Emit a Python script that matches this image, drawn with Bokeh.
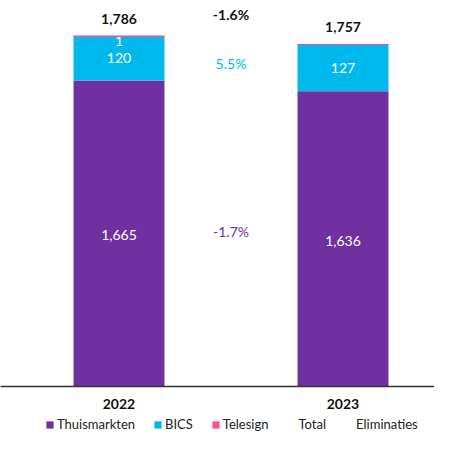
import numpy as np
from bokeh.plotting import figure
from bokeh.layouts import column
from bokeh.models import (ColumnDataSource, Range1d, FixedTicker, Legend, LegendItem)
from bokeh.core.properties import value
from bokeh.embed import file_html
from bokeh.resources import INLINE

# ---- data ----
years = ["2022", "2023"]
thuismarkten = [1665, 1636]
bics = [120, 127]
telesign = [1, 0]
eliminaties = [0, -6]
totals = [1786, 1757]
thuis_labels = ["1,665", "1,636"]
bics_labels = ["120", "127"]
telesign_labels = ["1", ""]
total_labels = ["1,786", "1,757"]
pct_total = "-1.6%"
pct_bics = "5.5%"
pct_thuis = "-1.7%"
series_names = ["Thuismarkten", "BICS", "Telesign", "Total", "Eliminaties"]

# ---- style ----
PURPLE = "#7030A0"
CYAN = "#00B9EC"
PINK = "#FF4F93"
FONT = "Lato"
Y0 = 832.3
PXU = 0.3675
FRAME_H = 386
MAIN_H = 416
W = 0.406

xs = np.arange(len(years))
th = np.array(thuismarkten, dtype=float)
bi = np.array(bics, dtype=float)
te = np.array(telesign, dtype=float)

src = ColumnDataSource(dict(
    x=xs, thuis=th, bics_bottom=th, bics_top=th + bi,
    tel_bottom=th + bi, tel_top=th + bi + te,
    total=np.array(totals, float), elim=np.array(eliminaties, float),
    thuis_mid=(Y0 + th) / 2, bics_mid=th + bi / 2, tel_mid=th + bi + te / 2,
    stack_top=th + bi + te,
    thuis_lab=thuis_labels, bics_lab=bics_labels, tel_lab=telesign_labels,
    total_lab=total_labels,
))

p = figure(width=434, height=MAIN_H, output_backend="svg", toolbar_location=None,
           x_range=Range1d(-0.529, -0.529 + 434 / 224),
           y_range=Range1d(Y0, Y0 + FRAME_H / PXU),
           min_border_left=0, min_border_right=0, min_border_top=0,
           min_border_bottom=MAIN_H - FRAME_H)
p.outline_line_color = None
p.xgrid.visible = False
p.ygrid.visible = False
p.yaxis.visible = False
p.background_fill_color = "white"

p.vbar(x="x", bottom=0, top="thuis", width=W, source=src, fill_color=PURPLE, line_color=None)
p.vbar(x="x", bottom="bics_bottom", top="bics_top", width=W, source=src, fill_color=CYAN, line_color=None)

txt = dict(text_font=value(FONT), text_align="center", text_baseline="middle", source=src)
p.text(x="x", y="thuis_mid", text="thuis_lab", text_color="white", text_font_size="14px", y_offset=2, **txt)
p.text(x="x", y="bics_mid", text="bics_lab", text_color="white", text_font_size="14px", **txt)
p.text(x="x", y="tel_mid", text="tel_lab", text_color="white", text_font_size="14px", y_offset=5, **txt)

p.vbar(x="x", bottom="tel_bottom", top="tel_top", width=W, source=src, fill_color=PINK, line_color=PINK, line_width=1)

p.text(x="x", y="stack_top", text="total_lab", text_color="#111111", text_font_size="14px",
       text_font_style="bold", y_offset=-17, **txt)

# percentage changes between bars
mid_x = float(xs.mean())
top_y = float(np.max(th + bi + te))
bics_y = float(np.mean(th + bi / 2))
thuis_y = float((Y0 + np.mean(th)) / 2)
pct = ColumnDataSource(dict(x=[mid_x, mid_x, mid_x], y=[top_y, bics_y, thuis_y],
                            t=[pct_total, pct_bics, pct_thuis],
                            c=["#111111", CYAN, PURPLE],
                            st=["bold", "normal", "normal"],
                            off=[-22, 0, -5]))
p.text(x="x", y="y", text="t", text_color="c", text_font_style="st", y_offset="off",
       text_font=value(FONT), text_font_size="14px", text_align="center",
       text_baseline="middle", source=pct)

# x axis
p.xaxis.ticker = FixedTicker(ticks=list(xs))
p.xaxis.major_label_overrides = {int(i): y for i, y in zip(xs, years)}
p.xaxis.major_tick_line_color = None
p.xaxis.major_tick_out = 0
p.xaxis.minor_tick_line_color = None
p.xaxis.axis_line_color = "#333333"
p.xaxis.axis_line_width = 1.5
p.xaxis.major_label_standoff = 12
p.xaxis.major_label_text_font = FONT
p.xaxis.major_label_text_font_style = "bold"
p.xaxis.major_label_text_font_size = "14px"
p.xaxis.major_label_text_color = "#111111"

# ---- legend strip ----
lf = figure(width=434, height=434 - MAIN_H, output_backend="svg", toolbar_location=None,
            x_range=Range1d(0, 1), y_range=Range1d(0, 1),
            min_border_left=0, min_border_right=0, min_border_top=0, min_border_bottom=0)
lf.outline_line_color = None
lf.axis.visible = False
lf.grid.visible = False
legend_colors = [PURPLE, CYAN, PINK, None, None]
items = []
for name, col in zip(series_names, legend_colors):
    if col is None:
        r = lf.vbar(x="x", top="total", width=W, source=src, fill_alpha=0, line_alpha=0, visible=False)
    else:
        r = lf.vbar(x="x", top="thuis", width=W, source=src, fill_color=col, line_color=None, visible=False)
    items.append(LegendItem(label=name, renderers=[r]))

legend = Legend(items=items, orientation="horizontal", location=(45, 2),
                glyph_width=9, glyph_height=9, label_standoff=3, spacing=18,
                padding=0, margin=0, label_height=14,
                border_line_alpha=0, background_fill_alpha=0,
                label_text_font=FONT, label_text_font_size="13px", label_text_color="#222222")
lf.add_layout(legend, "center")

layout = column(p, lf, spacing=0)
open("out.html", "w").write(file_html(layout, INLINE))
